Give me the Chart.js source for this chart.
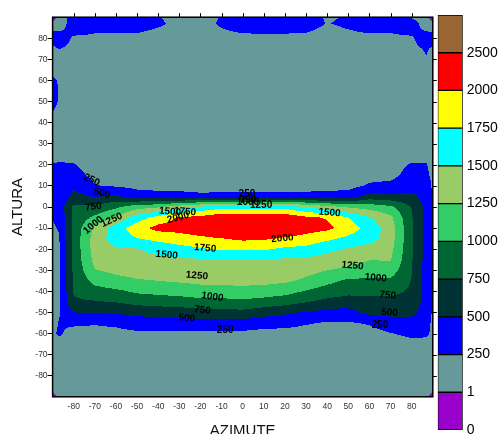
<!DOCTYPE html>
<html>
<head>
<meta charset="utf-8">
<script src="https://cdn.jsdelivr.net/npm/chart.js@4.4.1/dist/chart.umd.min.js"></script>
<style>
  html, body { margin: 0; padding: 0; background: #fff; overflow: hidden; }
  #wrap { position: relative; width: 500px; height: 434px; overflow: hidden; }
  #mapa { position: absolute; left: 0; top: 0; }
  #barra { position: absolute; left: 0; top: 0; pointer-events: none; }
</style>
</head>
<body>
<div id="wrap">
  <canvas id="mapa" width="500" height="434"></canvas>
  <canvas id="barra" width="500" height="460"></canvas>
</div>
<script>
/* Contour map ALTURA x AZIMUTE with a colour bar on the right.
   Grid values; fill = bilinear surface cut at the levels. */

// grid nodes (degrees)
const azimute = [-90, -87, -80, -70, -60, -50, -40, -30, -20, -10, 0, 10, 20, 30, 40, 50, 60, 70, 80, 87, 90];
const altura = [90, 87, 80, 75, 70, 65, 60, 55, 50, 45, 40, 35, 30, 25, 20, 15, 10, 5, 0,
  -5, -10, -15, -20, -25, -30, -35, -40, -45, -50, -55, -60, -65, -70, -75, -80, -87, -90];

// one row per altura, one column per azimute
const valores = [
  [0, 1.5, 460, 300, 300, 320, 270, 150, 150, 265, 320, 330, 330, 320, 230, 260, 320, 300, 200, 1.5, 0],
  [1.5, 2, 480, 350, 340, 340, 280, 200, 170, 280, 350, 360, 360, 350, 240, 290, 350, 340, 480, 2, 1.5],
  [480, 470, 200, 200, 200, 200, 170, 180, 150, 180, 200, 200, 200, 190, 150, 190, 200, 200, 200, 480, 420],
  [150, 260, 150, 150, 150, 150, 150, 150, 150, 150, 150, 150, 150, 150, 150, 150, 150, 150, 170, 280, 200],
  [150, 150, 150, 150, 150, 150, 150, 150, 150, 150, 150, 150, 150, 150, 150, 150, 150, 150, 150, 230, 150],
  [170, 150, 150, 150, 150, 150, 150, 150, 150, 150, 150, 150, 150, 150, 150, 150, 150, 150, 150, 150, 150],
  [300, 230, 150, 150, 150, 150, 150, 150, 150, 150, 150, 150, 150, 150, 150, 150, 150, 150, 150, 150, 150],
  [320, 240, 150, 150, 150, 150, 150, 150, 150, 150, 150, 150, 150, 150, 150, 150, 150, 150, 150, 150, 150],
  [310, 235, 150, 150, 150, 150, 150, 150, 150, 150, 150, 150, 150, 150, 150, 150, 150, 150, 150, 150, 150],
  [250, 200, 150, 150, 150, 150, 150, 150, 150, 150, 150, 150, 150, 150, 150, 150, 150, 150, 150, 150, 150],
  [200, 160, 150, 150, 150, 150, 150, 150, 150, 150, 150, 150, 150, 150, 150, 150, 150, 150, 150, 150, 150],
  [240, 170, 150, 150, 150, 150, 150, 150, 150, 150, 150, 150, 150, 150, 150, 150, 150, 150, 150, 150, 150],
  [180, 160, 150, 150, 150, 150, 150, 150, 150, 150, 150, 150, 150, 150, 150, 150, 150, 150, 150, 150, 150],
  [170, 170, 180, 160, 150, 150, 150, 150, 150, 150, 150, 150, 150, 150, 150, 150, 150, 150, 180, 190, 150],
  [260, 280, 260, 170, 160, 150, 150, 150, 150, 150, 150, 150, 150, 150, 150, 150, 160, 170, 270, 260, 180],
  [290, 300, 330, 190, 170, 160, 155, 150, 150, 150, 150, 150, 150, 150, 155, 160, 180, 200, 320, 290, 200],
  [300, 320, 470, 260, 230, 180, 170, 170, 160, 160, 160, 160, 160, 165, 170, 175, 280, 300, 380, 360, 220],
  [300, 330, 560, 480, 550, 380, 340, 330, 300, 310, 310, 310, 310, 320, 340, 360, 600, 570, 560, 400, 220],
  [290, 330, 800, 820, 950, 1150, 1220, 1400, 1550, 1650, 1650, 1650, 1650, 1500, 1350, 1220, 1150, 1050, 740, 420, 220],
  [265, 300, 820, 1050, 1280, 1620, 1850, 2030, 2080, 2200, 2200, 2200, 2180, 2050, 1980, 1750, 1520, 1300, 770, 420, 220],
  [220, 270, 830, 1300, 1620, 1900, 2080, 2100, 2200, 2320, 2350, 2300, 2250, 2120, 2060, 1880, 1650, 1380, 780, 420, 220],
  [180, 230, 840, 1360, 1620, 1740, 1820, 1880, 1930, 1990, 2050, 2030, 1960, 1900, 1800, 1690, 1600, 1370, 780, 410, 220],
  [180, 220, 830, 1360, 1460, 1480, 1580, 1660, 1720, 1780, 1780, 1780, 1700, 1680, 1560, 1470, 1400, 1320, 780, 410, 220],
  [180, 215, 820, 1320, 1380, 1420, 1440, 1450, 1480, 1480, 1500, 1480, 1470, 1450, 1400, 1340, 1260, 1260, 770, 400, 220],
  [180, 215, 800, 1240, 1300, 1340, 1360, 1380, 1400, 1420, 1430, 1420, 1400, 1340, 1250, 1200, 1120, 1130, 760, 400, 220],
  [180, 215, 790, 1080, 1180, 1230, 1250, 1280, 1310, 1320, 1330, 1320, 1290, 1200, 1070, 950, 960, 950, 740, 400, 220],
  [180, 220, 770, 900, 950, 1040, 1070, 1100, 1140, 1150, 1160, 1140, 1090, 980, 880, 820, 800, 800, 720, 400, 220],
  [180, 220, 720, 730, 760, 830, 860, 880, 920, 920, 950, 900, 850, 760, 680, 640, 690, 700, 680, 390, 220],
  [180, 230, 500, 510, 530, 570, 600, 620, 650, 660, 680, 610, 540, 480, 420, 400, 580, 580, 560, 380, 220],
  [180, 260, 290, 270, 300, 370, 390, 400, 410, 420, 400, 350, 330, 270, 230, 230, 270, 380, 410, 340, 200],
  [210, 280, 170, 170, 180, 210, 200, 200, 200, 190, 200, 170, 170, 160, 150, 150, 170, 240, 300, 290, 200],
  [150, 180, 150, 150, 150, 150, 150, 150, 150, 150, 150, 150, 150, 150, 150, 150, 150, 160, 180, 180, 150],
  [150, 150, 150, 150, 150, 150, 150, 150, 150, 150, 150, 150, 150, 150, 150, 150, 150, 150, 150, 150, 150],
  [150, 150, 150, 150, 150, 150, 150, 150, 150, 150, 150, 150, 150, 150, 150, 150, 150, 150, 150, 150, 150],
  [150, 150, 150, 150, 150, 150, 150, 150, 150, 150, 150, 150, 150, 150, 150, 150, 150, 150, 150, 150, 150],
  [1.5, 2, 150, 150, 150, 150, 150, 150, 150, 150, 150, 150, 150, 150, 150, 150, 150, 150, 150, 2, 1.5],
  [0, 1.5, 150, 150, 150, 150, 150, 150, 150, 150, 150, 150, 150, 150, 150, 150, 150, 150, 150, 1.5, 0]
];

// contour levels and the colour of each band (band i = niveis[i] .. niveis[i+1])
const niveis = [0, 1, 250, 500, 750, 1000, 1250, 1500, 1750, 2000, 2500];
const cores = ["#9900cc", "#669999", "#0000ff", "#003333", "#006633", "#33cc66",
  "#99cc66", "#00ffff", "#ffff00", "#ff0000", "#996633"];

// contour labels
const rotulosTexto = ["250", "500", "750", "1000", "1250", "1500", "1750", "2000",
  "1750", "1500", "1250", "1000", "750", "500", "250",
  "2000", "1500", "1250", "1000", "750", "500", "250",
  "250", "750", "1000", "1250"];
const rotulosAz = [-71.5, -66.7, -70.7, -70.7, -62, -34.4, -27.3, -30.6,
  -17.8, -36, -21.7, -14.3, -19.1, -26.5, -8.3,
  18.8, 41.1, 52, 63, 68.7, 69.5, 65,
  2, 2.5, 2.5, 8.7];
const rotulosAlt = [12.8, 6.5, 0.1, -8.6, -6.2, -2.3, -2.3, -5,
  -19.6, -22.8, -32.6, -42.6, -48.9, -52.8, -58.4,
  -14.9, -2.7, -27.9, -33.7, -41.8, -50.2, -56,
  6, 3.4, 2.3, 1.0];
const rotulosAngulo = [25, 15, -8, -40, -25, 5, 5, -15,
  5, 5, 5, 8, 8, 5, 0,
  -5, 5, 5, 5, 5, 5, 0,
  0, 0, 0, 0];

const fonte = '"Liberation Sans", Arial, sans-serif';

function valorEm(az, alt) {
  let j = 0;
  while (j < azimute.length - 2 && az > azimute[j + 1]) j++;
  let i = 0;
  while (i < altura.length - 2 && alt < altura[i + 1]) i++;
  const u = Math.min(1, Math.max(0, (az - azimute[j]) / (azimute[j + 1] - azimute[j])));
  const v = Math.min(1, Math.max(0, (altura[i] - alt) / (altura[i] - altura[i + 1])));
  const a = valores[i][j], b = valores[i][j + 1];
  const c = valores[i + 1][j], d = valores[i + 1][j + 1];
  return a * (1 - u) * (1 - v) + b * u * (1 - v) + c * (1 - u) * v + d * u * v;
}

function faixa(v) {
  let k = 0;
  for (let i = 0; i < niveis.length; i++) if (v >= niveis[i]) k = i;
  return k;
}

/* ---- Plugin: filled contours, frame, top/right ticks, contour labels ---- */
const campoContorno = {
  id: 'campoContorno',
  beforeDatasetsDraw(chart) {
    const { ctx, chartArea: area } = chart;
    const x = chart.scales.x, y = chart.scales.y;
    const x0 = Math.floor(area.left), x1 = Math.ceil(area.right);
    const y0 = Math.floor(area.top), y1 = Math.ceil(area.bottom);
    ctx.save();
    for (let py = y0; py < y1; py++) {
      const alt = y.getValueForPixel(py + 0.5);
      let inicio = x0, atual = -1;
      for (let px = x0; px <= x1; px++) {
        const k = px < x1 ? faixa(valorEm(x.getValueForPixel(px + 0.5), alt)) : -2;
        if (k !== atual) {
          if (atual >= 0) {
            ctx.fillStyle = cores[atual];
            ctx.fillRect(inicio, py, px - inicio, 1);
          }
          inicio = px;
          atual = k;
        }
      }
    }
    ctx.restore();
  },
  afterDatasetsDraw(chart) {
    const { ctx, chartArea: area } = chart;
    const x = chart.scales.x, y = chart.scales.y;
    ctx.save();

    // labels on the contours
    ctx.fillStyle = '#000';
    ctx.font = 'bold 10px ' + fonte;
    ctx.textAlign = 'center';
    ctx.textBaseline = 'middle';
    rotulosTexto.forEach((t, i) => {
      ctx.save();
      ctx.translate(x.getPixelForValue(rotulosAz[i]), y.getPixelForValue(rotulosAlt[i]));
      ctx.rotate(rotulosAngulo[i] * Math.PI / 180);
      ctx.fillText(t, 0, 0);
      ctx.restore();
    });

    // frame
    ctx.strokeStyle = '#000';
    ctx.lineWidth = 1.5;
    ctx.strokeRect(area.left, area.top, area.right - area.left, area.bottom - area.top);

    // outward ticks on top and right
    ctx.lineWidth = 1;
    ctx.beginPath();
    for (const t of x.ticks) {
      const px = Math.round(x.getPixelForValue(t.value)) + 0.5;
      ctx.moveTo(px, area.top);
      ctx.lineTo(px, area.top - 4);
    }
    for (const t of y.ticks) {
      const py = Math.round(y.getPixelForValue(t.value)) + 0.5;
      ctx.moveTo(area.right, py);
      ctx.lineTo(area.right + 4, py);
    }
    ctx.stroke();
    ctx.restore();
  }
};

const semBordas = (s) => { s.ticks = s.ticks.filter(t => Math.abs(t.value) < 90); };

new Chart(document.getElementById('mapa'), {
  type: 'scatter',
  data: { datasets: [{ data: [], pointRadius: 0 }] },
  plugins: [campoContorno],
  options: {
    responsive: false,
    animation: false,
    events: [],
    layout: { padding: { top: 17.2, right: 67.2, left: 0, bottom: 0 } },
    plugins: { legend: { display: false }, tooltip: { enabled: false } },
    scales: {
      x: {
        type: 'linear', min: -90, max: 90,
        afterBuildTicks: semBordas,
        afterFit: (s) => { s.height = 37.2; },
        ticks: { stepSize: 10, autoSkip: false, maxRotation: 0, padding: 5,
                 color: '#333', font: { family: fonte, size: 8.5 } },
        grid: { drawOnChartArea: false, drawTicks: false },
        border: { display: false },
        title: { display: true, text: 'AZIMUTE', color: '#111',
                 font: { family: fonte, size: 15 }, padding: { top: 0, bottom: -5.5 } }
      },
      y: {
        type: 'linear', min: -90, max: 90,
        afterBuildTicks: semBordas,
        afterFit: (s) => { s.width = 52.6; },
        ticks: { stepSize: 10, autoSkip: false, padding: 0,
                 color: '#333', font: { family: fonte, size: 8.5 } },
        grid: { drawOnChartArea: false, drawTicks: true, tickLength: 5, color: '#000' },
        border: { display: false },
        title: { display: true, text: 'ALTURA', color: '#111',
                 font: { family: fonte, size: 15 }, padding: { top: 8.5, bottom: 0 } }
      }
    }
  }
});

// colour bar: one stacked segment per band, labels at the band edges
new Chart(document.getElementById('barra'), {
  type: 'bar',
  data: {
    labels: [''],
    datasets: cores.map((c) => ({
      data: [1],
      backgroundColor: c,
      borderColor: '#000',
      borderWidth: 1,
      borderSkipped: false,
      barPercentage: 1,
      categoryPercentage: 1
    }))
  },
  options: {
    responsive: false,
    animation: false,
    events: [],
    layout: { padding: { left: 437.7, top: 15, bottom: 30, right: 0 } },
    plugins: { legend: { display: false }, tooltip: { enabled: false } },
    scales: {
      x: { stacked: true, display: false },
      y: {
        stacked: true, position: 'right', min: 0, max: niveis.length,
        afterFit: (s) => { s.width = 37.3; },
        ticks: {
          stepSize: 1, autoSkip: false, padding: 4, color: '#000',
          font: { family: fonte, size: 14 },
          callback: (v) => (niveis[v] !== undefined ? String(niveis[v]) : '')
        },
        grid: { display: false, drawTicks: false, tickLength: 0 },
        border: { display: false }
      }
    }
  }
});
</script>
</body>
</html>
